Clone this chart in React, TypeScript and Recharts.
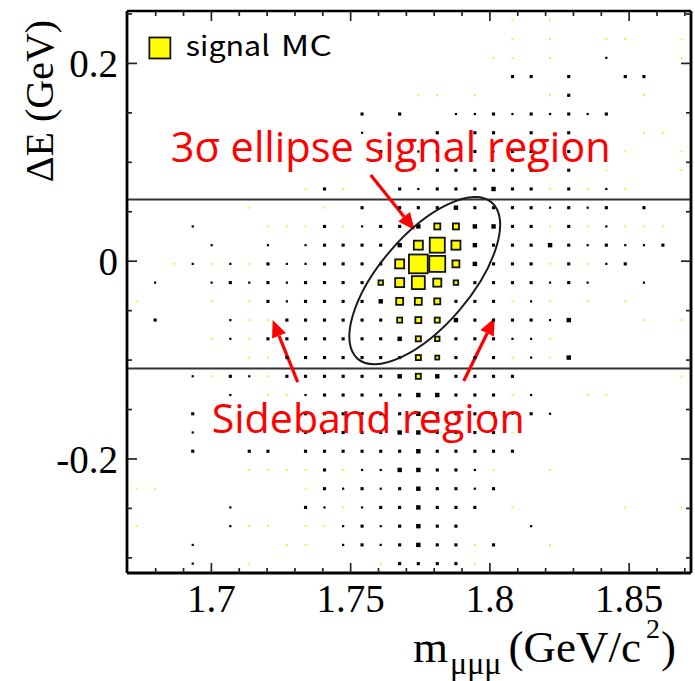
import React from 'react';
import { ScatterChart, Scatter, XAxis, YAxis, ReferenceLine, ReferenceDot } from 'recharts';

// ---------- data ----------
const massDomain: [number, number] = [1.6697, 1.8722];
const deltaEDomain: [number, number] = [-0.3153, 0.253];
const massTicks = [1.7, 1.75, 1.8, 1.85];
const massMinorTicks = [1.68, 1.69, 1.71, 1.72, 1.73, 1.74, 1.76, 1.77, 1.78, 1.79, 1.81, 1.82, 1.83, 1.84, 1.86, 1.87];
const deltaETicks = [-0.2, 0, 0.2];
const deltaEMinorTicks = [-0.3, -0.25, -0.15, -0.1, -0.05, 0.05, 0.1, 0.15, 0.25];

// bin centres
const massBins = [
  1.6731, 1.6798, 1.6866, 1.6933, 1.7001, 1.7068, 1.7136, 1.7203, 1.7271, 1.7338,
  1.7406, 1.7473, 1.7541, 1.7608, 1.7676, 1.7743, 1.7811, 1.7878, 1.7946, 1.8013,
  1.8081, 1.8148, 1.8216, 1.8283, 1.8351, 1.8418, 1.8486, 1.8553, 1.8621, 1.8688,
];
// top row first
const deltaEBins = [
  0.24353, 0.22459, 0.20564, 0.1867, 0.16776, 0.14881, 0.12987, 0.11093, 0.09198, 0.07304,
  0.0541, 0.03516, 0.01621, -0.00273, -0.02167, -0.04062, -0.05956, -0.0785, -0.09745, -0.11639,
  -0.13533, -0.15428, -0.17322, -0.19216, -0.2111, -0.23005, -0.24899, -0.26793, -0.28688, -0.30582,
];

// background / data (black boxes), rows top -> bottom
const bkgCounts: number[][] = [
  [0,0,0,0,0, 0,0,0,0,0, 0,0,0,0,0, 0,0,0,0,0, 0,0,0,0,0, 0,0,0,0,0],
  [0,0,0,0,0, 0,0,0,0,0, 0,0,0,0,0, 0,0,0,0,0, 0,0,0,0,0, 0,0,0,0,0],
  [0,0,0,0,0, 0,0,0,0,0, 0,0,0,0,0, 0,0,0,0,0, 0,0,0,0,0, 1,0,0,0,0],
  [0,0,0,0,0, 0,0,0,0,0, 0,0,0,0,0, 0,0,0,0,0, 2,2,0,2,0, 0,2,2,0,0],
  [0,0,0,0,0, 0,0,0,0,0, 0,0,0,0,0, 0,0,0,0,0, 0,0,0,2,0, 0,0,0,0,0],
  [0,0,0,0,0, 0,0,0,0,0, 0,0,2,0,2, 0,0,1,1,2, 1,2,1,2,1, 2,0,0,0,0],
  [0,0,0,0,0, 0,0,0,0,0, 0,0,1,0,0, 0,2,0,2,2, 0,2,0,2,0, 0,0,0,0,0],
  [0,0,0,0,0, 0,0,0,0,0, 0,0,0,2,0, 1,2,0,2,1, 2,2,0,2,0, 0,0,0,0,0],
  [0,0,0,0,0, 0,0,0,0,0, 0,0,0,0,0, 0,2,2,2,2, 2,2,0,2,0, 0,0,0,0,0],
  [0,0,0,0,0, 0,0,0,0,0, 2,0,0,0,2, 1,2,2,2,4, 2,2,0,2,0, 1,0,0,0,0],
  [0,0,0,0,0, 0,0,0,0,0, 0,0,2,0,2, 2,2,4,2,2, 2,2,1,2,1, 2,0,2,0,0],
  [0,0,0,1,0, 0,0,0,0,0, 2,0,1,2,2, 4,0,0,4,4, 2,2,0,2,0, 1,0,0,0,0],
  [0,0,0,0,1, 0,0,1,0,1, 2,2,2,2,4, 0,0,0,4,2, 2,2,4,2,1, 2,1,1,2,0],
  [0,0,0,1,0, 1,0,2,1,1, 2,2,2,2,0, 0,0,0,4,2, 2,2,0,2,0, 1,2,0,0,0],
  [0,1,0,0,1, 2,1,2,1,2, 2,2,2,0,0, 0,0,0,2,2, 2,2,1,2,1, 0,0,1,0,0],
  [0,0,0,0,0, 0,0,2,1,2, 2,2,2,4,0, 0,0,2,2,2, 0,1,0,0,0, 0,0,0,0,0],
  [0,2,0,0,0, 1,0,0,2,2, 2,2,2,2,0, 0,0,4,2,2, 2,2,1,4,0, 0,0,0,0,0],
  [0,0,0,0,0, 1,0,2,2,2, 2,2,2,2,4, 0,0,2,2,2, 1,1,0,0,0, 0,0,0,0,0],
  [0,0,0,0,0, 0,0,0,2,2, 2,2,2,2,2, 0,0,2,2,2, 0,1,0,4,0, 0,0,0,0,0],
  [0,0,0,1,0, 2,1,0,2,2, 2,2,2,2,4, 0,4,2,2,2, 2,0,0,0,0, 0,0,0,0,0],
  [0,0,0,0,0, 1,0,0,0,1, 2,2,2,2,2, 4,4,2,2,2, 0,1,0,0,0, 0,0,0,0,0],
  [0,0,0,2,0, 0,0,0,0,2, 2,2,2,2,2, 4,2,2,2,2, 1,2,1,0,0, 0,0,0,0,0],
  [0,0,0,1,0, 0,0,0,0,2, 2,2,2,2,4, 4,2,2,2,2, 0,0,0,0,0, 0,0,0,0,0],
  [0,0,0,2,0, 0,2,2,0,2, 2,2,2,2,2, 4,2,2,2,2, 2,0,0,0,0, 0,0,0,0,0],
  [0,0,0,0,0, 0,0,0,0,0, 2,0,1,1,4, 4,2,2,1,0, 0,0,0,0,0, 0,0,0,0,0],
  [0,0,0,0,0, 0,0,0,0,0, 2,1,2,1,2, 4,2,2,1,2, 0,0,0,0,0, 0,0,0,0,0],
  [0,0,0,0,0, 1,0,0,0,2, 1,0,1,2,2, 4,2,2,2,0, 0,0,0,0,0, 0,0,0,0,0],
  [0,0,0,0,0, 1,0,0,0,0, 0,1,2,1,2, 4,2,2,0,0, 0,1,0,0,0, 0,0,0,0,0],
  [0,0,0,1,0, 0,0,0,0,0, 0,1,2,1,2, 4,2,2,0,2, 0,0,0,0,0, 0,0,0,0,0],
  [0,0,0,1,0, 0,0,0,0,0, 0,0,0,0,2, 2,2,2,0,0, 0,0,0,0,0, 0,0,0,0,0],
];

// signal MC (yellow boxes), rows top -> bottom
const signalCounts: number[][] = [
  [0,0,0,0,0, 0,0,0,0,0, 0,0,0,0,0, 0,0,0,0,0, 9,0,9,0,0, 0,0,0,0,0],
  [0,0,0,0,0, 0,0,0,0,0, 0,0,0,0,0, 0,0,0,0,0, 9,0,9,0,0, 9,9,0,0,9],
  [0,0,0,0,0, 0,0,0,0,0, 0,0,0,0,0, 0,0,0,0,9, 9,0,9,0,0, 0,0,0,0,9],
  [0,0,0,0,0, 0,0,0,0,0, 0,0,0,0,0, 0,0,0,0,0, 0,0,0,0,0, 0,0,0,0,0],
  [0,0,0,0,0, 0,0,0,0,0, 0,0,0,0,0, 9,9,0,9,0, 0,0,9,0,0, 0,0,9,0,0],
  [0,0,0,0,0, 0,0,0,0,0, 0,0,0,0,0, 0,0,0,0,0, 0,0,0,0,0, 0,0,0,0,0],
  [0,0,0,0,0, 0,0,0,0,0, 0,0,0,0,0, 0,0,0,0,0, 0,0,0,0,0, 0,0,9,9,0],
  [0,0,0,0,0, 0,0,0,0,0, 0,0,0,0,0, 0,0,0,0,0, 0,0,0,0,0, 0,9,0,0,9],
  [0,0,0,0,0, 0,0,0,0,0, 0,0,0,0,0, 9,0,0,0,0, 0,0,0,0,0, 9,0,0,0,9],
  [0,0,0,0,0, 0,0,0,0,9, 0,9,0,0,0, 0,0,0,0,0, 0,0,9,0,9, 0,9,0,0,0],
  [0,0,0,0,0, 0,9,0,0,0, 9,0,0,0,0, 0,0,0,0,0, 0,0,0,0,0, 0,0,0,0,0],
  [0,0,0,0,0, 0,0,9,9,9, 0,9,0,0,0, 0,32,32,0,0, 0,0,9,0,9, 0,9,9,9,0],
  [0,0,0,0,0, 0,0,0,0,0, 0,0,0,0,0, 48,80,48,0,0, 0,0,0,0,0, 0,0,0,0,0],
  [0,0,9,0,9, 0,9,0,0,0, 0,0,0,0,48, 100,85,37,0,0, 0,0,9,0,9, 0,0,0,0,0],
  [0,0,0,0,0, 0,0,0,0,0, 0,0,0,24,48, 69,43,24,0,0, 0,0,0,0,0, 0,0,0,0,0],
  [9,0,0,0,9, 0,9,0,0,0, 0,0,0,0,37, 37,32,0,0,0, 9,0,9,0,9, 0,9,0,0,0],
  [0,0,0,0,0, 0,9,9,0,0, 0,0,0,0,27, 32,27,0,0,0, 0,0,0,0,0, 0,0,9,0,9],
  [0,0,0,0,9, 0,9,0,0,0, 0,0,0,0,0, 27,24,0,0,0, 0,0,9,0,0, 0,0,0,0,0],
  [0,0,0,0,0, 0,9,9,0,0, 0,0,0,0,0, 27,21,0,0,0, 9,0,9,0,0, 0,0,0,0,0],
  [0,0,0,0,9, 0,0,9,0,0, 0,0,0,0,0, 27,0,0,0,0, 0,0,0,0,0, 0,0,0,0,9],
  [0,0,0,0,0, 0,0,9,9,0, 0,0,0,0,0, 0,0,0,0,0, 9,0,0,0,9, 9,0,0,0,0],
  [0,0,0,0,0, 0,0,0,0,0, 0,0,0,0,0, 0,0,0,0,0, 0,0,0,0,0, 0,0,0,0,0],
  [0,0,0,0,0, 0,0,0,0,0, 0,0,0,0,0, 0,0,0,0,0, 9,0,0,0,0, 0,0,0,0,0],
  [0,0,0,0,0, 0,0,0,0,0, 0,0,0,0,0, 0,0,0,0,0, 0,0,0,0,0, 0,0,0,0,0],
  [0,0,0,0,0, 0,9,9,9,9, 0,9,0,0,0, 0,0,0,0,9, 0,0,9,0,0, 0,0,0,0,0],
  [9,9,0,0,0, 0,0,0,0,9, 0,0,0,0,0, 0,0,0,0,0, 0,0,0,0,0, 0,0,0,0,0],
  [0,0,0,0,0, 0,0,0,0,0, 0,9,0,0,0, 0,0,0,0,0, 9,0,0,0,0, 0,9,0,0,9],
  [9,0,0,0,0, 0,9,9,0,9, 9,0,0,0,0, 0,0,0,0,0, 0,0,0,0,0, 0,0,0,0,0],
  [0,0,0,0,0, 0,0,0,9,9, 0,0,0,0,0, 0,0,0,9,0, 0,0,9,0,0, 0,0,0,0,0],
  [0,0,0,0,0, 0,9,0,0,0, 0,0,0,9,0, 0,0,0,9,0, 0,0,0,0,0, 0,0,0,0,0],
];

// signal-region definitions
const bandUpper = 0.0625;
const bandLower = -0.1085;
const ellipseCenter = { mass: 1.7766, deltaE: -0.0197 };

// ---------- layout ----------
const W = 695;
const H = 681;
const MARGIN = { top: 11, right: 4, bottom: 0, left: 0 };
const Y_AXIS_W = 127;
const X_AXIS_H = 108;
const PLOT_W = W - MARGIN.right - Y_AXIS_W;
const BIN_PX = PLOT_W / massBins.length;
const BKG_MAX = 72;
const SIG_MAX = 100;
const MAJ_PX = 10;
const MIN_PX = 5;

type Cell = { x: number; y: number; v: number };
function toCells(m: number[][]): Cell[] {
  const out: Cell[] = [];
  m.forEach((row, j) =>
    row.forEach((v, i) => {
      if (v > 0) out.push({ x: massBins[i], y: deltaEBins[j], v });
    })
  );
  return out;
}
const bkgCells = toCells(bkgCounts);
const sigCells = toCells(signalCounts);

// frame tick marks, placed at the frame edges through the axes' scales
type TickMark = { x: number; y: number; len: number; side: 'b' | 't' | 'l' | 'r' };
const tickMarks: TickMark[] = [];
massTicks.forEach((t) => {
  tickMarks.push({ x: t, y: deltaEDomain[0], len: MAJ_PX, side: 'b' });
  tickMarks.push({ x: t, y: deltaEDomain[1], len: MAJ_PX, side: 't' });
});
massMinorTicks.forEach((t) => {
  tickMarks.push({ x: t, y: deltaEDomain[0], len: MIN_PX, side: 'b' });
  tickMarks.push({ x: t, y: deltaEDomain[1], len: MIN_PX, side: 't' });
});
deltaETicks.forEach((t) => {
  tickMarks.push({ x: massDomain[0], y: t, len: MAJ_PX, side: 'l' });
  tickMarks.push({ x: massDomain[1], y: t, len: MAJ_PX, side: 'r' });
});
deltaEMinorTicks.forEach((t) => {
  tickMarks.push({ x: massDomain[0], y: t, len: MIN_PX, side: 'l' });
  tickMarks.push({ x: massDomain[1], y: t, len: MIN_PX, side: 'r' });
});

const TickShape = (p: any) => {
  const { cx, cy } = p;
  const { len, side } = p.payload as TickMark;
  let x2 = cx;
  let y2 = cy;
  if (side === 'b') y2 = cy - len;
  if (side === 't') y2 = cy + len;
  if (side === 'l') x2 = cx + len;
  if (side === 'r') x2 = cx - len;
  return <line x1={cx} y1={cy} x2={x2} y2={y2} stroke="#222" strokeWidth={1.7} />;
};

const BkgBox = (p: any) => {
  const s = BIN_PX * Math.sqrt(p.payload.v / BKG_MAX);
  return <rect x={p.cx - s / 2} y={p.cy - s / 2} width={s} height={s} fill="#000" />;
};
const SigBox = (p: any) => {
  const s = (BIN_PX * p.payload.v) / SIG_MAX;
  if (s < 3) {
    return <rect x={p.cx - 0.9} y={p.cy - 0.9} width={1.8} height={1.8} fill="#eeee20" />;
  }
  return (
    <rect x={p.cx - s / 2} y={p.cy - s / 2} width={s} height={s} fill="#ffff00" stroke="#111" strokeWidth={1.8} />
  );
};

const serif = 'Liberation Serif, Times New Roman, serif';
const sans = 'Open Sans, Noto Sans, sans-serif';

const XTitle = (p: any) => {
  const vb = p.viewBox || { x: Y_AXIS_W, y: H - X_AXIS_H, width: PLOT_W, height: X_AXIS_H };
  return (
    <text x={vb.x + 286} y={vb.y + 89} fontFamily={serif} fontSize={45} fill="#000">
      <tspan>m</tspan>
      <tspan fontSize={32} dy={12} dx={2}>μμμ</tspan>
      <tspan dy={-12} dx={7}>(GeV/c</tspan>
      <tspan fontSize={28} dy={-24} dx={5}>2</tspan>
      <tspan dy={24} dx={1}>)</tspan>
    </text>
  );
};
const YTitle = () => {
  const x = 53;
  const y = 101;
  return (
    <text x={x} y={y} transform={`rotate(-90, ${x}, ${y})`} textAnchor="middle" fontFamily={serif} fontSize={40} fill="#000">
      ΔE (GeV)
    </text>
  );
};

const Arrow = (p: any) => {
  const { x1, y1, x2, y2 } = p;
  if ([x1, y1, x2, y2].some((v) => typeof v !== 'number')) return <g />;
  const dx = x2 - x1;
  const dy = y2 - y1;
  const len = Math.sqrt(dx * dx + dy * dy);
  const ux = dx / len;
  const uy = dy / len;
  const hl = 17;
  const hw = 7.5;
  const bx = x2 - ux * hl;
  const by = y2 - uy * hl;
  return (
    <g>
      <line x1={x1} y1={y1} x2={bx} y2={by} stroke="#ff0000" strokeWidth={3.2} />
      <polygon
        points={`${x2},${y2} ${bx - uy * hw},${by + ux * hw} ${bx + uy * hw},${by - ux * hw}`}
        fill="#ff0000"
      />
    </g>
  );
};

const axisCommon = { type: 'number' as const, allowDataOverflow: true, interval: 0 as const };

export default function App() {
  return (
    <div style={{ position: 'absolute', left: 0, top: 0, width: W, height: H, background: '#fff' }}>
      <ScatterChart width={W} height={H} margin={MARGIN}>
        <XAxis
          {...axisCommon}
          xAxisId="xb"
          dataKey="x"
          domain={massDomain}
          ticks={massTicks}
          tickLine={false}
          tickSize={0}
          tickMargin={11}
          axisLine={{ stroke: '#000', strokeWidth: 2.8 }}
          tick={{ fontFamily: serif, fontSize: 39, fill: '#000' }}
          height={X_AXIS_H}
          label={<XTitle />}
        />
        <XAxis {...axisCommon} xAxisId="xt" dataKey="x" orientation="top" mirror domain={massDomain} ticks={massTicks} tick={false} tickLine={false} axisLine={{ stroke: '#000', strokeWidth: 2.6 }} />

        <YAxis
          {...axisCommon}
          yAxisId="yl"
          dataKey="y"
          domain={deltaEDomain}
          ticks={deltaETicks}
          tickLine={false}
          tickSize={0}
          tickMargin={9}
          axisLine={{ stroke: '#000', strokeWidth: 2.8 }}
          tick={{ fontFamily: serif, fontSize: 39, fill: '#000' }}
          width={Y_AXIS_W}
          label={<YTitle />}
        />
        <YAxis {...axisCommon} yAxisId="yr" dataKey="y" orientation="right" mirror domain={deltaEDomain} ticks={deltaETicks} tick={false} tickLine={false} axisLine={{ stroke: '#000', strokeWidth: 2.8 }} />

        <Scatter xAxisId="xb" yAxisId="yl" data={bkgCells} shape={<BkgBox />} isAnimationActive={false} />
        <Scatter xAxisId="xb" yAxisId="yl" data={sigCells} shape={<SigBox />} isAnimationActive={false} />
        <Scatter xAxisId="xb" yAxisId="yl" data={tickMarks} shape={<TickShape />} isAnimationActive={false} legendType="none" />

        <ReferenceLine xAxisId="xb" yAxisId="yl" y={bandUpper} stroke="#333" strokeWidth={2} />
        <ReferenceLine xAxisId="xb" yAxisId="yl" y={bandLower} stroke="#333" strokeWidth={2} />

        <ReferenceDot
          xAxisId="xb"
          yAxisId="yl"
          x={ellipseCenter.mass}
          y={ellipseCenter.deltaE}
          r={0}
          shape={(p: any) => (
            <ellipse
              cx={p.cx}
              cy={p.cy}
              rx={103}
              ry={45.5}
              transform={`rotate(-49.4, ${p.cx}, ${p.cy})`}
              fill="none"
              stroke="#1a1a1a"
              strokeWidth={2}
            />
          )}
        />

        {/* legend */}
        <ReferenceDot
          xAxisId="xb"
          yAxisId="yl"
          x={1.6815}
          y={0.2156}
          r={0}
          shape={(p: any) => (
            <g>
              <rect x={p.cx - 10.5} y={p.cy - 10.5} width={21} height={21} fill="#ffff00" stroke="#111" strokeWidth={1.8} />
              <text x={p.cx + 26} y={p.cy + 8} fontFamily="Noto Sans CJK JP, Noto Sans, sans-serif" fontSize={28} fill="#000" textLength={84} lengthAdjust="spacingAndGlyphs">signal</text>
              <text x={p.cx + 121} y={p.cy + 8} fontFamily="Noto Sans CJK JP, Noto Sans, sans-serif" fontSize={28} fill="#000" textLength={51} lengthAdjust="spacingAndGlyphs">MC</text>
            </g>
          )}
        />

        {/* annotations */}
        <ReferenceLine xAxisId="xb" yAxisId="yl" segment={[{ x: 1.7572, y: 0.0872 }, { x: 1.773, y: 0.0315 }]} shape={<Arrow />} />
        <ReferenceLine xAxisId="xb" yAxisId="yl" segment={[{ x: 1.731, y: -0.1222 }, { x: 1.722, y: -0.0595 }]} shape={<Arrow />} />
        <ReferenceLine xAxisId="xb" yAxisId="yl" segment={[{ x: 1.7906, y: -0.1212 }, { x: 1.8017, y: -0.0574 }]} shape={<Arrow />} />

        <ReferenceDot
          xAxisId="xb"
          yAxisId="yl"
          x={1.6854}
          y={0.1}
          r={0}
          shape={(p: any) => (
            <text x={p.cx} y={p.cy} fontFamily={sans} fontSize={42} fill="#ff0000" textLength={440} lengthAdjust="spacingAndGlyphs">
              3σ ellipse signal region
            </text>
          )}
        />
        <ReferenceDot
          xAxisId="xb"
          yAxisId="yl"
          x={1.7001}
          y={-0.1737}
          r={0}
          shape={(p: any) => (
            <text x={p.cx} y={p.cy} fontFamily={sans} fontSize={41} fill="#ff0000" textLength={313} lengthAdjust="spacingAndGlyphs">
              Sideband region
            </text>
          )}
        />
      </ScatterChart>
    </div>
  );
}
